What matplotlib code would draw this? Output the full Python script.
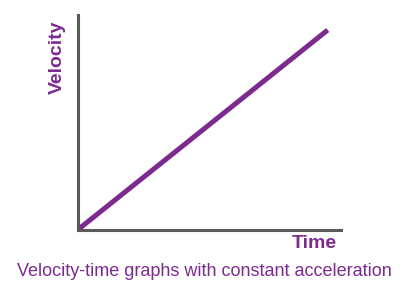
import matplotlib.pyplot as plt

time = [0, 10]
velocity = [0, 10]

purple = '#7d2a8e'
axis_grey = '#5a5a5a'

plt.rcParams['font.family'] = ['Liberation Sans', 'DejaVu Sans']

fig = plt.figure(figsize=(4.18, 2.95), dpi=100)
ax = fig.add_axes([77.5 / 418, 65 / 295, 263.5 / 418, 215 / 295])

ax.plot(time, velocity, color=purple, linewidth=3.6, solid_capstyle='butt')
ax.set_xlim(0, 10.53)
ax.set_ylim(0, 10.75)

for side in ['top', 'right']:
    ax.spines[side].set_visible(False)
for side in ['left', 'bottom']:
    ax.spines[side].set_color(axis_grey)
    ax.spines[side].set_linewidth(2.2)
ax.set_xticks([])
ax.set_yticks([])

fig.text(314 / 418, 1 - 243 / 295, 'Time', color=purple, fontsize=14,
         fontweight='bold', ha='center', va='center')
fig.text(57 / 418, 1 - 57 / 295, 'Velocity', color=purple, fontsize=14,
         fontweight='bold', ha='center', va='center', rotation=90)
fig.text(204 / 418, 1 - 272 / 295, 'Velocity-time graphs with constant acceleration',
         color=purple, fontsize=13, ha='center', va='center')

fig.savefig('out.png', dpi=100)
